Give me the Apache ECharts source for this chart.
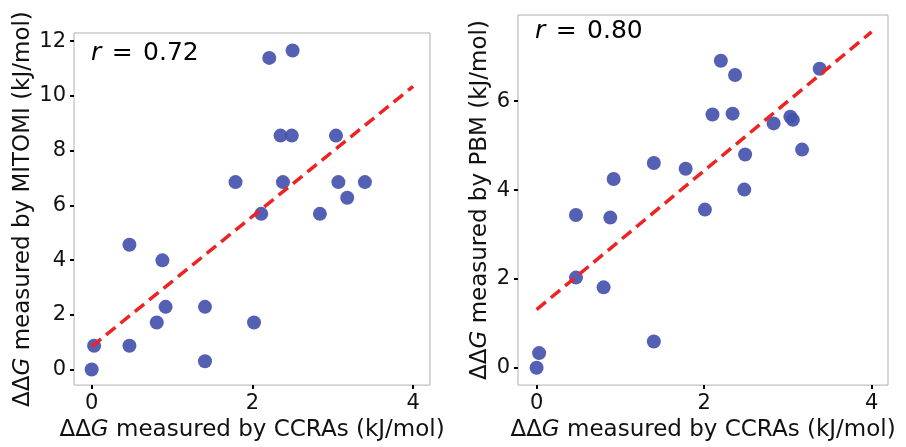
<!DOCTYPE html>
<html><head><meta charset="utf-8">
<script src="https://cdn.jsdelivr.net/npm/echarts@6/dist/echarts.min.js"></script>
<style>html,body{margin:0;padding:0;background:#fff}#c{width:906px;height:447px}</style>
</head><body><div id="c"></div>
<script>
// Left panel: CCRAs vs MITOMI
const ccraX_left = [0,0.03,0.47,0.47,0.81,0.88,0.92,1.41,1.41,1.79,2.02,2.11,2.21,2.35,2.38,2.49,2.50,2.84,3.04,3.07,3.18,3.40];
const mitomiY   = [0,0.87,0.87,4.56,1.72,3.99,2.29,2.29,0.30,6.85,1.72,5.69,11.39,8.55,6.85,8.55,11.66,5.69,8.55,6.85,6.28,6.85];
// Right panel: CCRAs vs PBM
const ccraX_right = [0,0.03,0.47,0.47,0.80,0.88,0.92,1.40,1.40,1.78,2.01,2.10,2.20,2.34,2.37,2.48,2.49,2.83,3.03,3.06,3.17,3.38];
const pbmY       = [0,0.33,3.44,2.03,1.81,3.38,4.25,4.61,0.59,4.48,3.56,5.70,6.91,5.72,6.59,4.01,4.80,5.50,5.65,5.58,4.91,6.73];
// Fit lines (endpoints)
const fitX = [0,4];
const mitomiFitY = [0.84,10.35];
const pbmFitY = [1.31,7.56];
// Correlation values
const rValues = ['0.72','0.80'];
// Tick labels
const xTicks = [0,2,4];
const leftYTicks = [0,2,4,6,8,10,12];
const rightYTicks = [0,2,4,6];
const yNames = ['ΔΔ{i|G} measured by MITOMI (kJ/mol)','ΔΔ{i|G} measured by PBM (kJ/mol)'];
const xName = 'ΔΔ{i|G} measured by CCRAs (kJ/mol)';

const FONT = 'DejaVu Sans';
const nameStyle = {fontFamily:FONT,fontSize:23,color:'#111',rich:{i:{fontFamily:FONT,fontSize:23,fontStyle:'italic',color:'#111'}}};
const pair = (xs,ys)=>xs.map((x,i)=>[x,ys[i]]);

function xAxis(idx,min,max){
  return {type:'value',gridIndex:idx,min:min,max:max,
    name:xName,nameLocation:'middle',nameGap:31,nameTextStyle:nameStyle,
    axisLine:{show:false,onZero:false},splitLine:{show:false},
    axisTick:{show:true,length:4,lineStyle:{color:'#000',width:2},customValues:xTicks},
    axisLabel:{fontFamily:FONT,fontSize:21,color:'#111',margin:8,customValues:xTicks}};
}
function yAxis(idx,min,max,ticks,name,gap){
  return {type:'value',gridIndex:idx,min:min,max:max,
    name:name,nameLocation:'middle',nameGap:gap,nameTextStyle:nameStyle,
    axisLine:{show:false,onZero:false},splitLine:{show:false},
    axisTick:{show:true,length:4,lineStyle:{color:'#000',width:2},customValues:ticks},
    axisLabel:{fontFamily:FONT,fontSize:21,color:'#111',margin:8,customValues:ticks}};
}
const chart = echarts.init(document.getElementById('c'),null,{renderer:'canvas'});
chart.setOption({
  animation:false,
  grid:[
    {left:74,top:33,width:356,height:356,show:true,borderColor:'#b0b0b0',borderWidth:1,backgroundColor:'transparent'},
    {left:518,top:15,width:370,height:374,show:true,borderColor:'#b0b0b0',borderWidth:1,backgroundColor:'transparent'}
  ],
  xAxis:[xAxis(0,-0.22,4.21),xAxis(1,-0.222,4.196)],
  yAxis:[yAxis(0,-0.57,12.30,leftYTicks,yNames[0],39),yAxis(1,-0.39,7.94,rightYTicks,yNames[1],26)],
  series:[
    {type:'scatter',xAxisIndex:0,yAxisIndex:0,data:pair(ccraX_left,mitomiY),symbolSize:14,itemStyle:{color:'#4452ad',opacity:0.92},z:2},
    {type:'scatter',xAxisIndex:1,yAxisIndex:1,data:pair(ccraX_right,pbmY),symbolSize:14,itemStyle:{color:'#4452ad',opacity:0.92},z:2},
    {type:'line',xAxisIndex:0,yAxisIndex:0,data:pair(fitX,mitomiFitY),symbol:'none',lineStyle:{color:'#ee2424',width:3.5,type:[12,6.5]},z:3},
    {type:'line',xAxisIndex:1,yAxisIndex:1,data:pair(fitX,pbmFitY),symbol:'none',lineStyle:{color:'#ee2424',width:3.5,type:[12,6.5]},z:3}
  ],
  graphic:[
    {type:'text',left:91,top:41,style:{text:'{i|r} \u200A=\u200A '+rValues[0],font:'25px "DejaVu Sans"',fill:'#000',rich:{i:{fontStyle:'italic',fontSize:25,fontFamily:FONT,fill:'#000'}}}},
    {type:'text',left:535,top:19,style:{text:'{i|r} \u200A=\u200A '+rValues[1],font:'25px "DejaVu Sans"',fill:'#000',rich:{i:{fontStyle:'italic',fontSize:25,fontFamily:FONT,fill:'#000'}}}}
  ]
});
</script></body></html>
